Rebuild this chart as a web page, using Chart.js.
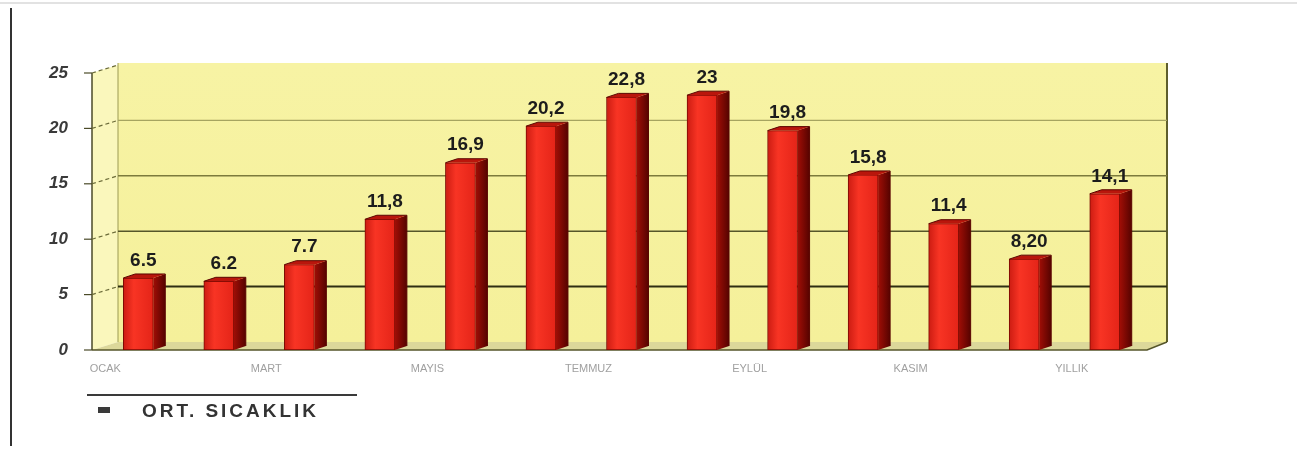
<!DOCTYPE html>
<html><head><meta charset="utf-8">
<script src="https://cdn.jsdelivr.net/npm/chart.js@4/dist/chart.umd.min.js"></script>
<style>html,body{margin:0;padding:0;background:#fff;}#wrap{position:relative;width:1297px;height:450px;}</style>
</head><body><div id="wrap"><canvas id="c" width="1297" height="450"></canvas></div>
<script>
const categories = ['OCAK','ŞUBAT','MART','NİSAN','MAYIS','HAZİRAN','TEMMUZ','AĞUSTOS','EYLÜL','EKİM','KASIM','ARALIK','YILLIK'];
const temperatures = [6.5, 6.2, 7.7, 11.8, 16.9, 20.2, 22.8, 23, 19.8, 15.8, 11.4, 8.2, 14.1];
const valueLabels = ['6.5','6.2','7.7','11,8','16,9','20,2','22,8','23','19,8','15,8','11,4','8,20','14,1'];
const yTicks = [0, 5, 10, 15, 20, 25];
const seriesName = 'ORT. SICAKLIK';

const DX = 26, DY = -8;       // back-wall depth offset
const BDX = 12, BDY = -4;     // bar depth offset
const gridStyles = {5:['#2e2e12',2], 10:['#56562a',1.6], 15:['#7c7b3c',1.6], 20:['#a6a460',1.4]};

const walls = {
  id: 'walls',
  beforeDraw(chart) {
    const c = chart.ctx;
    c.save();
    c.fillStyle = '#fff'; c.fillRect(0,0,chart.width,chart.height);
    c.strokeStyle = '#e2e2e2'; c.lineWidth = 2;
    c.beginPath(); c.moveTo(0,3); c.lineTo(chart.width,3); c.stroke();
    c.strokeStyle = '#333'; c.lineWidth = 2;
    c.beginPath(); c.moveTo(11,8); c.lineTo(11,446); c.stroke();
    c.restore();
  },
  beforeDatasetsDraw(chart) {
    const c = chart.ctx, ca = chart.chartArea, y = chart.scales.y;
    const ax = ca.left - 6, bl = ax + DX, br = ca.right + 22;
    const y0 = y.getPixelForValue(0), yTop = y.getPixelForValue(yTicks[yTicks.length-1]);
    c.save();
    c.fillStyle = '#faf7bc';
    c.beginPath(); c.moveTo(ax, yTop); c.lineTo(bl, yTop+DY); c.lineTo(bl, y0+DY); c.lineTo(ax, y0); c.closePath(); c.fill();
    const g = c.createLinearGradient(0, yTop+DY, 0, y0+DY);
    g.addColorStop(0, '#f7f3a4'); g.addColorStop(1, '#f5f09a');
    c.fillStyle = g; c.fillRect(bl, yTop+DY-2, br-bl, y0-yTop+2);
    c.strokeStyle = '#9c9a55'; c.lineWidth = 1;
    c.beginPath(); c.moveTo(bl, yTop+DY-2); c.lineTo(bl, y0+DY); c.stroke();
    c.strokeStyle = '#5e5e2c'; c.lineWidth = 2;
    c.beginPath(); c.moveTo(br, yTop+DY-2); c.lineTo(br, y0+DY); c.stroke();
    yTicks.forEach(v => {
      if (!gridStyles[v]) return;
      const py = y.getPixelForValue(v) + DY;
      c.strokeStyle = gridStyles[v][0]; c.lineWidth = gridStyles[v][1];
      c.beginPath(); c.moveTo(bl, py); c.lineTo(br, py); c.stroke();
    });
    c.fillStyle = '#dcd89a';
    c.beginPath(); c.moveTo(ax, y0); c.lineTo(ca.right+2, y0); c.lineTo(br, y0+DY); c.lineTo(bl, y0+DY); c.closePath(); c.fill();
    c.strokeStyle = '#55552a'; c.lineWidth = 1.5;
    c.beginPath(); c.moveTo(ax, y0); c.lineTo(ca.right+2, y0); c.lineTo(br, y0+DY); c.stroke();
    c.strokeStyle = '#4a4a28'; c.lineWidth = 1.5;
    c.beginPath(); c.moveTo(ax, yTop); c.lineTo(ax, y0); c.stroke();
    yTicks.forEach(v => {
      const py = y.getPixelForValue(v);
      c.strokeStyle = '#4a4a28'; c.lineWidth = 1.2; c.setLineDash([]);
      c.beginPath(); c.moveTo(ax-8, py); c.lineTo(ax, py); c.stroke();
      if (v > 0) {
        c.setLineDash([4,3]); c.strokeStyle = '#6a6a38';
        c.beginPath(); c.moveTo(ax, py); c.lineTo(bl, py+DY); c.stroke();
      }
    });
    c.setLineDash([]);
    c.restore();
  },
  afterDatasetsDraw(chart) {
    const c = chart.ctx;
    const meta = chart.getDatasetMeta(0);
    c.save();
    meta.data.forEach((bar, i) => {
      const r = bar.x + bar.width/2, l = bar.x - bar.width/2, t = bar.y, b = bar.base;
      const sg = c.createLinearGradient(r, 0, r+BDX, 0);
      sg.addColorStop(0, '#a00e06'); sg.addColorStop(1, '#560300');
      c.fillStyle = sg;
      c.beginPath(); c.moveTo(r, t); c.lineTo(r+BDX, t+BDY); c.lineTo(r+BDX, b+BDY); c.lineTo(r, b); c.closePath(); c.fill();
      c.fillStyle = '#b9160c';
      c.beginPath(); c.moveTo(l, t); c.lineTo(r, t); c.lineTo(r+BDX, t+BDY); c.lineTo(l+BDX, t+BDY); c.closePath(); c.fill();
      c.strokeStyle = '#5a0500'; c.lineWidth = 1;
      c.beginPath(); c.moveTo(l, t); c.lineTo(l+BDX, t+BDY); c.lineTo(r+BDX, t+BDY); c.lineTo(r+BDX, b+BDY); c.stroke();
      c.font = 'bold 19px "Liberation Sans", Arial, sans-serif';
      c.fillStyle = '#1c1c1c'; c.textAlign = 'center'; c.textBaseline = 'bottom';
      c.fillText(valueLabels[i], bar.x + 5, t + BDY - 4);
    });
    c.restore();
  },
  afterDraw(chart) {
    const c = chart.ctx;
    c.save();
    c.strokeStyle = '#3a3a3a'; c.lineWidth = 2;
    c.beginPath(); c.moveTo(87, 395); c.lineTo(357, 395); c.stroke();
    c.fillStyle = '#3a3a3a'; c.fillRect(98, 407, 12, 6);
    c.font = 'bold 19px "Liberation Sans", Arial, sans-serif';
    const w0 = c.measureText(seriesName).width;
    const ls = Math.max(0, (174 - w0) / (seriesName.length - 1));
    c.letterSpacing = ls.toFixed(2) + 'px';
    c.fillStyle = '#333'; c.textAlign = 'left'; c.textBaseline = 'middle';
    c.fillText(seriesName, 142, 412);
    c.restore();
  }
};

new Chart(document.getElementById('c'), {
  type: 'bar',
  data: {
    labels: categories,
    datasets: [{
      label: seriesName,
      data: temperatures,
      barThickness: 30,
      borderWidth: 1,
      borderColor: '#7a0a02',
      borderSkipped: false,
      backgroundColor: (ctx) => {
        const ch = ctx.chart, xs = ch.scales && ch.scales.x;
        if (!xs || !ch.chartArea) return '#ea2a1c';
        const cx = xs.getPixelForValue(ctx.dataIndex);
        const g = ch.ctx.createLinearGradient(cx-15, 0, cx+15, 0);
        g.addColorStop(0, '#cc1c12'); g.addColorStop(0.35, '#f83424'); g.addColorStop(1, '#e42418');
        return g;
      }
    }]
  },
  options: {
    responsive: false,
    animation: false,
    devicePixelRatio: 1,
    layout: { padding: { left: 0, top: 73, right: 152, bottom: 0 } },
    plugins: { legend: { display: false }, tooltip: { enabled: false } },
    scales: {
      x: {
        grid: { display: false, drawTicks: false },
        border: { display: false },
        afterFit(s) { s.height = 100; },
        ticks: {
          autoSkip: false, maxRotation: 0, minRotation: 0,
          labelOffset: -33, padding: 12,
          color: '#a0a0a0',
          font: { family: '"Liberation Sans", Arial, sans-serif', size: 11 },
          callback: (v, i) => (i % 2 === 0 ? categories[i] : '')
        }
      },
      y: {
        min: yTicks[0], max: yTicks[yTicks.length-1],
        afterFit(s) { s.width = 98; },
        afterBuildTicks(s) { s.ticks = yTicks.map(v => ({ value: v })); },
        grid: { display: false, drawTicks: false },
        border: { display: false },
        ticks: {
          padding: 30, color: '#3a3a3a',
          font: { family: '"Liberation Sans", Arial, sans-serif', size: 17, weight: 'bold', style: 'italic' }
        }
      }
    }
  },
  plugins: [walls]
});
</script></body></html>
